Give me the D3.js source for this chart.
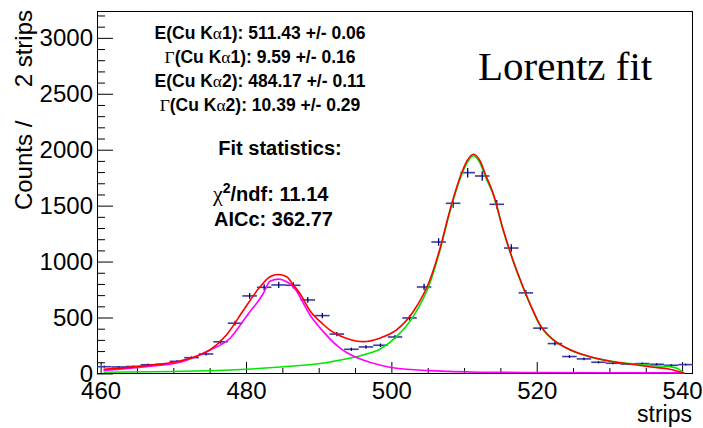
<!DOCTYPE html>
<html><head><meta charset="utf-8">
<script src="https://cdn.jsdelivr.net/npm/d3@7"></script>
<style>body{margin:0;background:#fff}svg{display:block}text{white-space:pre}</style>
</head><body>
<svg id="c" width="703" height="428"></svg>
<script>
// ---- data ----
const binCenters = [460.5,462.5,464.5,466.5,468.5,470.5,472.5,474.5,476.5,478.5,480.5,482.5,484.5,486.5,488.5,490.5,492.5,494.5,496.5,498.5,500.5,502.5,504.5,506.5,508.5,510.5,512.5,514.5,516.5,518.5,520.5,522.5,524.5,526.5,528.5,530.5,532.5,534.5,536.5,538.5,540.5];
const counts = [60,58,62,78,82,108,141,174,283,449,693,770,791,788,657,517,352,216,237,252,326,496,773,1175,1521,1795,1765,1512,1121,720,405,267,151,130,100,91,84,88,82,73,79];
const errors = [7.7,7.6,7.9,8.8,9.1,10.4,11.9,13.2,16.8,21.2,26.3,27.7,28.1,28.1,25.6,22.7,18.8,14.7,15.4,15.9,18.1,22.3,27.8,34.3,39.0,42.4,42.0,38.9,33.5,26.8,20.1,16.3,12.3,11.4,10.0,9.5,9.2,9.4,9.1,8.5,8.9];
const binHalfWidth = 1;

const totalX = [460.4,466.3,470.9,473.3,475.1,477.3,479.6,481.9,483.3,484.4,485.6,486.5,487.4,488.8,490.6,491.6,493.0,493.9,496.1,498.4,500.7,503.0,505.3,506.7,508.0,509.4,510.4,511.3,512.2,513.0,514.0,515.4,516.8,518.2,519.3,520.5,521.4,522.3,524.6,526.9,529.2,531.5,533.8,536.0,538.3,539.6,540.3];
const totalY = [38,70,112,156,213,344,560,772,865,885,865,791,717,560,440,385,335,313,284,315,389,552,836,1119,1446,1744,1900,1960,1900,1770,1610,1282,1000,760,590,430,355,300,212,158,120,95,76,55,38,15,0];

const ka1X = [460.4,470.0,477.1,484.2,491.6,496.1,498.4,500.7,503.0,505.3,506.7,508.0,509.4,510.4,511.3,512.2,513.0,514.0,515.4,516.8,518.2,519.3,520.5,521.4,522.3,524.6,526.9,529.2,531.5,533.8,536.0,538.3,539.3,540.3];
const ka1Y = [11,18,29,55,103,165,216,329,508,806,1104,1432,1729,1880,1946,1880,1750,1600,1275,995,755,585,425,350,297,210,156,121,97,82,70,61,46,0];

const ka2X = [460.4,466.3,470.9,475.0,477.8,480.1,482.4,483.3,484.5,485.6,486.5,488.8,491.1,491.6,493.0,493.9,496.1,498.4,500.7,505.3,512.1,520.0,530.0,540.3];
const ka2Y = [27,61,100,210,315,514,717,825,843,820,776,523,340,305,225,185,121,76,46,25,11,8,6,5];

const xMajorTicks = [460,480,500,520,540];
const yMajorTicks = [0,500,1000,1500,2000,2500,3000];

// ---- layout ----
const L = 97, R = 693, T = 11, B = 374;
const svg = d3.select("#c");
const x = d3.scaleLinear().domain([459.5, 541.5]).range([L, R]);
const y = d3.scaleLinear().domain([-5, 3240]).range([B, T]);
const sans = "'Liberation Sans', Arial, Helvetica, sans-serif";
const serif = "'Liberation Serif', 'Times New Roman', serif";

// axes
const xMinor = d3.range(460, 541, 5).filter(v => v % 20 !== 0);
const yMinor = d3.range(0, 3201, 100).filter(v => v % 500 !== 0);

svg.append("g").attr("transform", `translate(0,${B})`)
  .call(d3.axisBottom(x).tickValues(xMinor).tickSize(-6).tickFormat(""))
  .call(g => g.select(".domain").remove());
const gx = svg.append("g").attr("transform", `translate(0,${B})`)
  .call(d3.axisBottom(x).tickValues(xMajorTicks).tickSize(-12).tickPadding(8).tickFormat(d3.format("d")))
  .call(g => g.select(".domain").remove());
gx.selectAll("text").attr("font-family", sans).attr("font-size", 24).attr("fill", "#000");

svg.append("g").attr("transform", `translate(${L},0)`)
  .call(d3.axisLeft(y).tickValues(yMinor).tickSize(-8).tickFormat(""))
  .call(g => g.select(".domain").remove());
const gy = svg.append("g").attr("transform", `translate(${L},0)`)
  .call(d3.axisLeft(y).tickValues(yMajorTicks).tickSize(-16).tickPadding(4).tickFormat(d3.format("d")))
  .call(g => g.select(".domain").remove());
gy.selectAll("text").attr("font-family", sans).attr("font-size", 24).attr("fill", "#000");
svg.selectAll(".tick line").attr("stroke", "#000").attr("stroke-width", 1);

// frame
svg.append("rect").attr("x", L + 0.5).attr("y", T + 0.5).attr("width", R - L - 1).attr("height", B - T - 1)
  .attr("fill", "none").attr("stroke", "#000").attr("stroke-width", 1);

// data points with error bars
const pts = svg.append("g");
binCenters.forEach((c, i) => {
  pts.append("line").attr("x1", x(c - binHalfWidth)).attr("x2", Math.min(x(c + binHalfWidth), R))
    .attr("y1", y(counts[i])).attr("y2", y(counts[i]))
    .attr("stroke", "#3a3aa8").attr("stroke-width", 1.6);
  pts.append("line").attr("x1", x(c)).attr("x2", x(c))
    .attr("y1", y(counts[i] - errors[i])).attr("y2", y(counts[i] + errors[i]))
    .attr("stroke", "#00007a").attr("stroke-width", 1.3);
});

// fit curves
function curve(xs, ys, color) {
  const line = d3.line().x(d => x(d[0])).y(d => y(d[1])).curve(d3.curveMonotoneX);
  svg.append("path").datum(xs.map((v, i) => [v, ys[i]]))
    .attr("d", line).attr("fill", "none").attr("stroke", color).attr("stroke-width", 1.6);
}
curve(ka1X, ka1Y, "#00e600");
curve(ka2X, ka2Y, "#ff00ff");
curve(totalX, totalY, "#ff0000");

// titles
svg.append("text").attr("font-family", sans).attr("font-size", 24)
  .attr("transform", "translate(32,10) rotate(-90)").attr("text-anchor", "end")
  .text("Counts /     2 strips");
svg.append("text").attr("font-family", sans).attr("font-size", 23)
  .attr("x", 692).attr("y", 422).attr("text-anchor", "end").text("strips");

// parameter box
const params = [
  ["E", "1", "511.43 +/- 0.06"],
  ["Γ", "1", "9.59 +/- 0.16"],
  ["E", "2", "484.17 +/- 0.11"],
  ["Γ", "2", "10.39 +/- 0.29"]
];
const baselines = [38.7, 62.7, 86.7, 110.7];
params.forEach((p, i) => {
  const t = svg.append("text").attr("x", 260).attr("y", baselines[i]).attr("text-anchor", "middle")
    .attr("font-family", sans).attr("font-weight", "bold").attr("font-size", 17.5);
  if (p[0] === "Γ") t.append("tspan").attr("font-family", serif).attr("font-weight", "normal").text("Γ");
  else t.append("tspan").text("E");
  t.append("tspan").text("(Cu K");
  t.append("tspan").attr("font-family", serif).attr("font-weight", "normal").text("α");
  t.append("tspan").text(p[1] + "): " + p[2]);
});

svg.append("text").attr("x", 280).attr("y", 155).attr("text-anchor", "middle")
  .attr("font-family", sans).attr("font-weight", "bold").attr("font-size", 20).text("Fit statistics:");
const chi = svg.append("text").attr("x", 213).attr("y", 200.5)
  .attr("font-family", sans).attr("font-weight", "bold").attr("font-size", 20);
chi.append("tspan").attr("font-family", serif).attr("font-weight", "normal").attr("font-size", 22).text("χ");
chi.append("tspan").attr("font-size", 14).attr("dy", -8).text("2");
chi.append("tspan").attr("dy", 8).text("/ndf: 11.14");
svg.append("text").attr("x", 214).attr("y", 225.7)
  .attr("font-family", sans).attr("font-weight", "bold").attr("font-size", 20).text("AICc: 362.77");

svg.append("text").attr("x", 478).attr("y", 80).attr("font-family", serif).attr("font-size", 41)
  .text("Lorentz fit");
</script>
</body></html>
